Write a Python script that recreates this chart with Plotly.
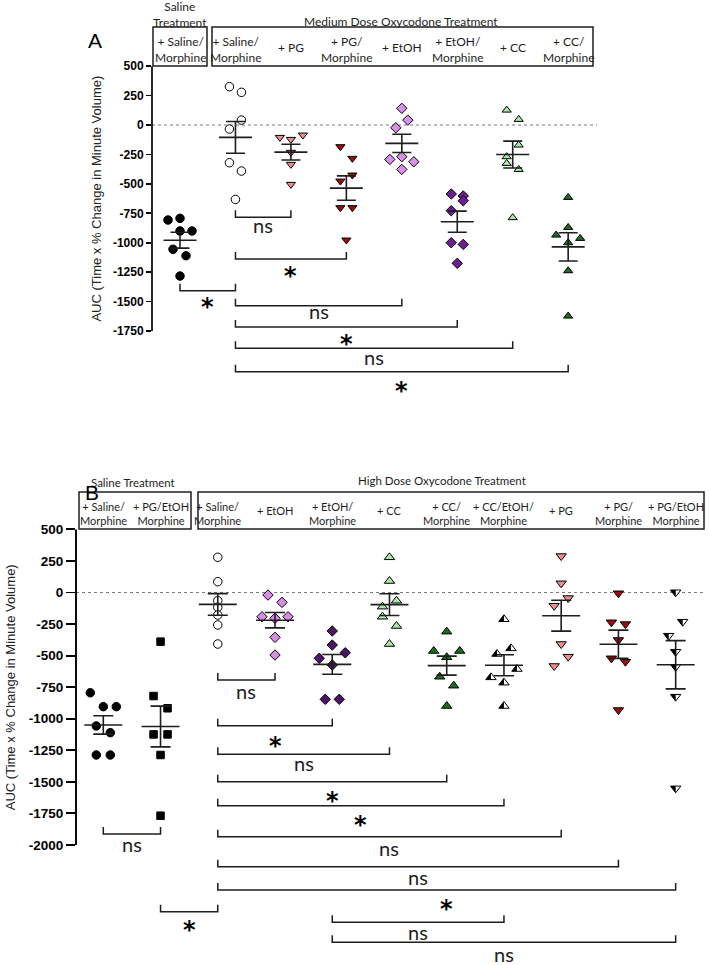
import numpy as np
import plotly.graph_objects as go

W, H = 709, 965

# ===================== DATA =====================
# Panel A: saline vs. medium-dose oxycodone treatment (AUC, Time x % change in minute volume)
A_categories = ["+ Saline/<br>Morphine", "+ Saline/<br>Morphine", "+ PG", "+ PG/<br>Morphine",
                "+ EtOH", "+ EtOH/<br>Morphine", "+ CC", "+ CC/<br>Morphine"]
A_group_titles = ["Saline<br>Treatment", "Medium Dose Oxycodone Treatment"]
A_saline_morphine = [-807, -793, -900, -900, -1056, -1110, -1283]
A_oxy_saline_morphine = [326, 278, 42, -34, -320, -391, -632]
A_oxy_pg = [-105, -122, -85, -232, -334, -504]
A_oxy_pg_morphine = [-184, -283, -425, -476, -702, -702, -977]
A_oxy_etoh = [142, 42, -23, -292, -269, -312, -377]
A_oxy_etoh_morphine = [-586, -603, -643, -728, -1000, -1014, -1175]
A_oxy_cc = [127, 48, -170, -269, -326, -377, -787]
A_oxy_cc_morphine = [-615, -870, -935, -963, -1000, -1238, -1623]
A_ticks = [500, 250, 0, -250, -500, -750, -1000, -1250, -1500, -1750]
A_tests = [(1, 2, "ns"), (1, 3, "*"), (0, 1, "*"), (1, 4, "ns"), (1, 5, "*"), (1, 6, "ns"), (1, 7, "*")]

# Panel B: saline vs. high-dose oxycodone treatment
B_categories = ["+ Saline/<br>Morphine", "+ PG/EtOH<br>Morphine", "+ Saline/<br>Morphine", "+ EtOH",
                "+ EtOH/<br>Morphine", "+ CC", "+ CC/<br>Morphine", "+ CC/EtOH/<br>Morphine",
                "+ PG", "+ PG/<br>Morphine", "+ PG/EtOH<br>Morphine"]
B_group_titles = ["Saline Treatment", "High Dose Oxycodone Treatment"]
B_saline_morphine = [-794, -904, -904, -1057, -1110, -1287, -1287]
B_saline_pg_etoh_morphine = [-389, -820, -917, -1124, -1124, -1287, -1768]
B_oxy_saline_morphine = [279, 86, -65, -117, -178, -257, -408]
B_oxy_etoh = [-20, -78, -192, -204, -192, -355, -495]
B_oxy_etoh_morphine = [-305, -416, -521, -477, -574, -846, -846]
B_oxy_cc = [279, 91, -65, -112, -192, -265, -408]
B_oxy_cc_morphine = [-310, -463, -463, -513, -667, -738, -899]
B_oxy_cc_etoh_morphine = [-212, -442, -487, -606, -672, -714, -899]
B_oxy_pg = [289, 73, -44, -105, -408, -508, -582]
B_oxy_pg_morphine = [-6, -236, -250, -376, -521, -548, -931]
B_oxy_pg_etoh_morphine = [2, -231, -342, -469, -588, -825, -1551]
B_ticks = [500, 250, 0, -250, -500, -750, -1000, -1250, -1500, -1750, -2000]
B_tests = [(2, 3, "ns"), (2, 4, "*"), (2, 5, "ns"), (2, 6, "*"), (2, 7, "*"), (2, 8, "ns"),
           (2, 9, "ns"), (2, 10, "*"), (4, 7, "ns"), (4, 10, "ns"), (0, 1, "ns"), (1, 2, "*")]

Y_TITLE = "AUC (Time x % Change in Minute Volume)"

# ===================== LAYOUT / STYLE (pixels) =====================
PANEL_A = dict(xa='x', ya='y', x0=152, x1=597, xr=(-0.505, 7.52),
               top=52, bot=404, v1=500, p1=66.2, v2=-1750, p2=331.0,
               ticklen=5, tickfs=12, lw=1.7, mean_hw=16.5, cap=9.5)
PANEL_B = dict(xa='x2', ya='y2', x0=76, x1=706, xr=(-0.477, 10.53),
               top=512, bot=965, v1=500, p1=529.4, v2=-2000, p2=845.0,
               ticklen=9, tickfs=13.5, lw=1.9, mean_hw=19, cap=10)
for P in (PANEL_A, PANEL_B):
    P['ky'] = (P['p2'] - P['p1']) / (P['v1'] - P['v2'])
    P['kx'] = (P['x1'] - P['x0']) / (P['xr'][1] - P['xr'][0])
    P['yr'] = (P['v2'] - (P['bot'] - P['p2']) / P['ky'],
               P['v1'] + (P['p1'] - P['top']) / P['ky'])


def py2v(P, py):
    return P['v1'] - (py - P['p1']) / P['ky']


def pxp(px):
    return px / W


def pyp(py):
    return 1 - py / H


# horizontal scatter offsets of the dots (pixels)
A_jitter = [[-12, 0, 0, 12, -7, 6, 0], [-6, 6, 6, -6, -6, 6, 0], [-11, 0, 12, 0, 0, 0],
            [-6, 6, 6, -6, -6, 6, 0], [0, 6, -6, -12, 0, 12, 0], [-6, 6, 6, -6, -6, 6, 0],
            [-6, 6, 6, -6, -6, 6, 0], [0, 0, -12, 12, 0, 0, 0]]
B_jitter = [[-13, 0, 13, -7, 7, -7, 7], [0, -7, 7, -7, 7, 0, 0], [0, 0, 0, 0, 0, 0, 0],
            [-7, 7, -13, 0, 13, 0, 0], [0, 0, -13, 13, 0, -7, 7], [0, 0, 7, -7, -7, 7, 0],
            [0, -13, 13, 0, -7, 7, 0], [0, 7, -7, 13, -13, 0, 0], [0, 0, 7, -7, 0, 7, -7],
            [0, -7, 7, 0, -7, 7, 0], [0, 7, -7, 0, 0, 0, 0]]

A_styles = [dict(symbol='circle', color='black', size=8.5),
            dict(symbol='circle', color='white', size=8.5),
            dict(symbol='triangle-down', color='#f28d8d', size=8),
            dict(symbol='triangle-down', color='#a00c0c', size=8),
            dict(symbol='diamond', color='#dc8fe8', size=8),
            dict(symbol='diamond', color='#6e1e90', size=8),
            dict(symbol='triangle-up', color='#a8e8a8', size=8),
            dict(symbol='triangle-up', color='#1c6e1c', size=8)]
B_styles = [dict(symbol='circle', color='black', size=8.5),
            dict(symbol='square', color='black', size=7.5),
            dict(symbol='circle', color='white', size=8.5),
            dict(symbol='diamond', color='#d98ce6', size=8),
            dict(symbol='diamond', color='#4e1466', size=8),
            dict(symbol='triangle-up', color='#a8e8a8', size=9),
            dict(symbol='triangle-up', color='#1c6e1c', size=9),
            dict(symbol='triangle-up', color='white', size=9, half='up'),
            dict(symbol='triangle-down', color='#f28d8d', size=9),
            dict(symbol='triangle-down', color='#a00c0c', size=9),
            dict(symbol='triangle-down', color='white', size=9, half='down')]

A_series = [A_saline_morphine, A_oxy_saline_morphine, A_oxy_pg, A_oxy_pg_morphine,
            A_oxy_etoh, A_oxy_etoh_morphine, A_oxy_cc, A_oxy_cc_morphine]
B_series = [B_saline_morphine, B_saline_pg_etoh_morphine, B_oxy_saline_morphine, B_oxy_etoh,
            B_oxy_etoh_morphine, B_oxy_cc, B_oxy_cc_morphine, B_oxy_cc_etoh_morphine,
            B_oxy_pg, B_oxy_pg_morphine, B_oxy_pg_etoh_morphine]

# bracket rows and label rows (pixels)
A_bracket_py = [217.3, 259, 290.7, 305.7, 327, 348.3, 371.7]
A_label_py = [227, 270, 301, 313, 338, 359, 385]
B_bracket_py = [680, 725.7, 754.3, 781.7, 805.7, 836.7, 866.7, 890, 922.3, 942.3, 834, 911.7]
B_label_py = [692.7, 740, 765, 795, 819, 850, 879, 903, 934, 955.5, 845.7, 924]

HEADER_A = dict(boxes=[(153, 27, 207, 66), (212, 27, 593, 66)],
                titles=[(180, 14), (401, 21)], lab2=50, lab1=48, fs=12, tfs=12)
HEADER_B = dict(boxes=[(79, 492, 191, 529), (198, 492, 704, 529)],
                titles=[(133, 482), (442, 480)], lab2=513, lab1=510, fs=11, tfs=11.5)

INK = '#1e1e1e'
TXT = 'Lato'
STAR_FONT = 'DejaVu Sans'

fig = go.Figure()
shapes = []
annotations = []


def draw_panel(P, series, styles, jitter, tests, br_py, lab_py, cats, titles, HD, ticks, letter, letter_xy, ytitle_x):
    xa, ya = P['xa'], P['ya']
    # dots
    for i, (vals, sty, jit) in enumerate(zip(series, styles, jitter)):
        xs = [i + j / P['kx'] for j in jit]
        fig.add_trace(go.Scatter(
            x=xs, y=vals, mode='markers', xaxis=xa, yaxis=ya, showlegend=False, hoverinfo='skip',
            marker=dict(symbol=sty['symbol'], size=sty['size'], color=sty['color'],
                        line=dict(color='black', width=1))))
        if sty.get('half'):
            r = sty['size'] / 2.0
            rt = r * 2 / np.sqrt(3)
            if sty['half'] == 'up':
                pts = [(0, -r), (-rt, r / 2), (0, r / 2)]
            else:
                pts = [(0, r), (-rt, -r / 2), (0, -r / 2)]
            for cx, v in zip(xs, vals):
                path = 'M ' + ' L '.join('%.5f,%.3f' % (cx + dx / P['kx'], v - dy / P['ky']) for dx, dy in pts) + ' Z'
                shapes.append(dict(type='path', xref=xa, yref=ya, path=path, fillcolor='black',
                                   line=dict(width=0, color='rgba(0,0,0,0)'), layer='above'))
    # mean +/- SEM
    for i, vals in enumerate(series):
        arr = np.array(vals, dtype=float)
        m = arr.mean()
        sem = arr.std(ddof=1) / np.sqrt(len(arr))
        fig.add_trace(go.Scatter(
            x=[i], y=[m], mode='markers', xaxis=xa, yaxis=ya, showlegend=False, hoverinfo='skip',
            marker=dict(size=2, color='rgba(0,0,0,0)'),
            error_x=dict(type='data', array=[P['mean_hw'] / P['kx']], width=0, thickness=1.6, color=INK),
            error_y=dict(type='data', array=[sem], width=P['cap'], thickness=1.6, color=INK)))
    # zero dotted line
    shapes.append(dict(type='line', xref=xa + ' domain', yref=ya, x0=0, x1=1, y0=0, y1=0,
                       line=dict(color='#777777', width=1, dash='dot'), layer='below'))
    # y axis line
    shapes.append(dict(type='line', xref=xa + ' domain', yref=ya, x0=0, x1=0, y0=ticks[-1], y1=ticks[0],
                       line=dict(color='black', width=P['lw']), layer='above'))
    # significance brackets
    tick_h = 7 / P['ky']
    for (a, b, lab), bpy, lpy in zip(tests, br_py, lab_py):
        yl = py2v(P, bpy)
        shapes.append(dict(type='path', xref=xa, yref=ya,
                           path='M %g,%g L %g,%g L %g,%g L %g,%g' % (a, yl + tick_h, a, yl, b, yl, b, yl + tick_h),
                           line=dict(color=INK, width=1.5)))
        if lab == '*':
            yv, font = py2v(P, lpy + 6), dict(family=STAR_FONT, size=24, color='#000000', weight='bold')
        else:
            yv, font = py2v(P, lpy - 2), dict(family=TXT, size=20, color=INK)
        annotations.append(dict(x=(a + b) / 2, y=yv, xref=xa, yref=ya, text=lab, showarrow=False,
                                xanchor='center', yanchor='middle', font=font))
    # header boxes and labels
    for (bx0, by0, bx1, by1) in HD['boxes']:
        shapes.append(dict(type='rect', xref='paper', yref='paper', x0=pxp(bx0), x1=pxp(bx1),
                           y0=pyp(by1), y1=pyp(by0), line=dict(color=INK, width=1.5)))
    for (tx, ty), t in zip(HD['titles'], titles):
        annotations.append(dict(x=pxp(tx), y=pyp(ty), xref='paper', yref='paper', text=t, showarrow=False,
                                xanchor='center', yanchor='middle',
                                font=dict(family=TXT, size=HD['tfs'], color=INK)))
    for i, c in enumerate(cats):
        two = '<br>' in c
        annotations.append(dict(x=i, y=pyp(HD['lab2'] if two else HD['lab1']), xref=xa, yref='paper',
                                text=c, showarrow=False, xanchor='center', yanchor='middle',
                                font=dict(family=TXT, size=HD['fs'], color=INK)))
    # panel letter
    annotations.append(dict(x=pxp(letter_xy[0]), y=pyp(letter_xy[1]), xref='paper', yref='paper', text=letter,
                            showarrow=False, xanchor='center', yanchor='middle',
                            font=dict(family='Arial', size=21, color='black')))
    # y-axis title
    annotations.append(dict(x=pxp(ytitle_x), y=(ticks[0] + ticks[-1]) / 2, xref='paper', yref=ya,
                            text=Y_TITLE, textangle=-90, showarrow=False, xanchor='center', yanchor='middle',
                            font=dict(family='Arial', size=13, color='#222222')))


draw_panel(PANEL_A, A_series, A_styles, A_jitter, A_tests, A_bracket_py, A_label_py,
           A_categories, A_group_titles, HEADER_A, A_ticks, 'A', (95, 40), 97)
draw_panel(PANEL_B, B_series, B_styles, B_jitter, B_tests, B_bracket_py, B_label_py,
           B_categories, B_group_titles, HEADER_B, B_ticks, 'B', (92, 493), 10)


def yaxis_cfg(P, ticks):
    return dict(domain=[pyp(P['bot']), pyp(P['top'])], range=list(P['yr']), anchor=P['xa'],
                tickmode='array', tickvals=ticks, ticktext=[str(t) for t in ticks],
                ticks='outside', ticklen=P['ticklen'], tickwidth=P['lw'], tickcolor='black',
                tickfont=dict(family='Arial', size=P['tickfs'], color='black', weight='bold'),
                showgrid=False, zeroline=False, showline=False, fixedrange=True)


def xaxis_cfg(P):
    return dict(domain=[pxp(P['x0']), pxp(P['x1'])], range=list(P['xr']), anchor=P['ya'],
                visible=False, showgrid=False, zeroline=False, fixedrange=True)


fig.update_layout(
    width=W, height=H, margin=dict(l=0, r=0, t=0, b=0),
    paper_bgcolor='white', plot_bgcolor='white', showlegend=False,
    font=dict(family=TXT, color=INK),
    xaxis=xaxis_cfg(PANEL_A), yaxis=yaxis_cfg(PANEL_A, A_ticks),
    xaxis2=xaxis_cfg(PANEL_B), yaxis2=yaxis_cfg(PANEL_B, B_ticks),
    shapes=shapes, annotations=annotations,
)

# remove the browser's default 8px body margin so the figure sits at the page origin
fig.write_html("out.html", config={'displayModeBar': False, 'staticPlot': True},
               post_script="document.body.style.margin='0px';document.body.style.overflow='hidden';")
